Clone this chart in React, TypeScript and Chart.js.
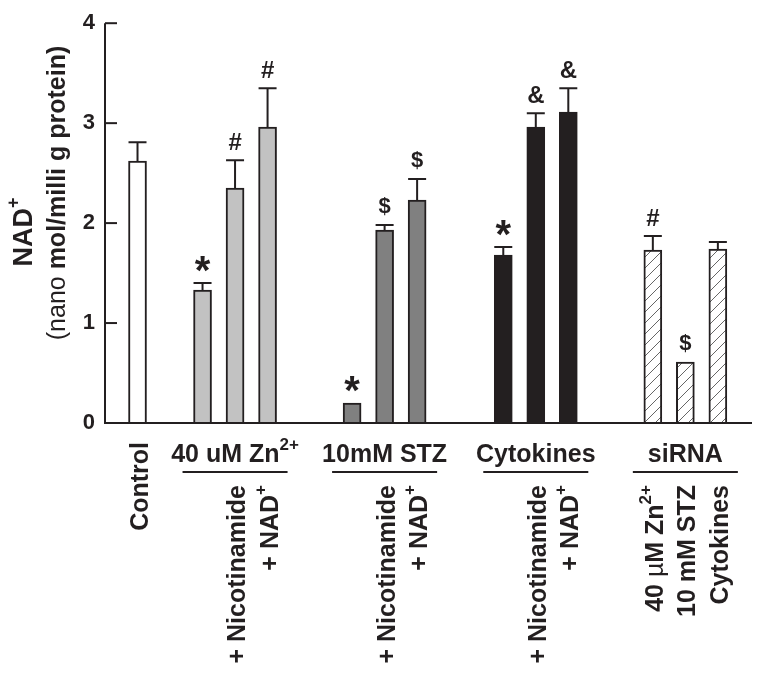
import React, { useEffect, useRef } from 'react';
import { Chart, registerables } from 'chart.js';

Chart.register(...registerables);

type Seg = { t: string; sup?: boolean; light?: boolean };

// ---- data ----
const positions = [1, 3, 4, 5, 7.6, 8.6, 9.6, 12.25, 13.25, 14.25, 16.85, 17.85, 18.85];
const values = [2.62, 1.33, 2.35, 2.96, 0.2, 1.93, 2.23, 1.68, 2.96, 3.11, 1.73, 0.61, 1.74];
const errors = [0.19, 0.07, 0.28, 0.39, 0, 0.05, 0.21, 0.08, 0.14, 0.24, 0.14, 0, 0.07];
const marks = ['', '*', '#', '#', '*', '$', '$', '*', '&', '&', '#', '$', ''];
const barKinds = ['control', 'zn', 'zn', 'zn', 'stz', 'stz', 'stz', 'cyt', 'cyt', 'cyt', 'sirna', 'sirna', 'sirna'];
const barLabels: Seg[][] = [
  [{ t: 'Control' }],
  [],
  [{ t: '+ Nicotinamide' }],
  [{ t: '+ NAD' }, { t: '+', sup: true }],
  [],
  [{ t: '+ Nicotinamide' }],
  [{ t: '+ NAD' }, { t: '+', sup: true }],
  [],
  [{ t: '+ Nicotinamide' }],
  [{ t: '+ NAD' }, { t: '+', sup: true }],
  [{ t: '40 ' }, { t: 'µ', light: true }, { t: 'M Zn' }, { t: '2+', sup: true }],
  [{ t: '10 mM STZ' }],
  [{ t: 'Cytokines' }],
];
const groupLabels: Seg[][] = [
  [{ t: '40 uM Zn' }, { t: '2+', sup: true }],
  [{ t: '10mM STZ' }],
  [{ t: 'Cytokines' }],
  [{ t: 'siRNA' }],
];
const groupFirst = [1, 4, 7, 10];
const groupLast = [3, 6, 9, 12];
const yTicks = [0, 1, 2, 3, 4];
const yTitle1: Seg[] = [{ t: 'NAD' }, { t: '+', sup: true }];
const yTitle2: Seg[] = [{ t: '(nano ', light: true }, { t: 'mol/milli g protein)' }];

// ---- styles ----
const INK = '#231f20';
const FONT = '"Liberation Sans", Arial, Helvetica, sans-serif';
const kindFill: Record<string, string> = {
  control: '#ffffff',
  zn: '#c2c2c2',
  stz: '#808080',
  cyt: '#231f20',
};

function fontFor(seg: Seg, size: number) {
  const s = seg.sup ? Math.round(size * 0.68) : size;
  return `${seg.light ? 'normal' : 'bold'} ${s}px ${FONT}`;
}

function drawRich(ctx: CanvasRenderingContext2D, segs: Seg[], size: number, align: 'left' | 'center' | 'right') {
  const widths = segs.map((s) => {
    ctx.font = fontFor(s, size);
    return ctx.measureText(s.t).width;
  });
  const total = widths.reduce((a, b) => a + b, 0);
  let x = align === 'left' ? 0 : align === 'center' ? -total / 2 : -total;
  ctx.textAlign = 'left';
  ctx.textBaseline = 'alphabetic';
  segs.forEach((s, i) => {
    ctx.font = fontFor(s, size);
    ctx.fillText(s.t, x, s.sup ? -size * 0.48 : 0);
    x += widths[i];
  });
}

function makeHatch(): CanvasPattern | string {
  const c = document.createElement('canvas');
  const n = 11;
  c.width = n;
  c.height = n;
  const g = c.getContext('2d');
  if (!g) return '#ffffff';
  g.fillStyle = '#ffffff';
  g.fillRect(0, 0, n, n);
  g.strokeStyle = '#555555';
  g.lineWidth = 0.9;
  g.beginPath();
  g.moveTo(-1, n + 1);
  g.lineTo(n + 1, -1);
  g.stroke();
  return g.createPattern(c, 'repeat') || '#ffffff';
}

const overlay = {
  id: 'overlay',
  afterDatasetsDraw(chart: any) {
    const ctx: CanvasRenderingContext2D = chart.ctx;
    const xs = chart.scales.x;
    const ys = chart.scales.y;
    const area = chart.chartArea;
    const barW = 18;
    ctx.save();
    ctx.strokeStyle = INK;
    ctx.fillStyle = INK;
    ctx.lineWidth = 2;

    // axes lines + inward ticks
    ctx.beginPath();
    ctx.moveTo(area.left, ys.getPixelForValue(4));
    ctx.lineTo(area.left, area.bottom);
    ctx.lineTo(area.right, area.bottom);
    ctx.stroke();
    yTicks.forEach((v) => {
      const y = ys.getPixelForValue(v);
      ctx.beginPath();
      ctx.moveTo(area.left, y);
      ctx.lineTo(area.left + 12, y);
      ctx.stroke();
    });

    // error bars and marks
    positions.forEach((p, i) => {
      const x = xs.getPixelForValue(p);
      const yTop = ys.getPixelForValue(values[i]);
      const yErr = ys.getPixelForValue(values[i] + errors[i]);
      if (errors[i] > 0) {
        ctx.beginPath();
        ctx.moveTo(x, yTop);
        ctx.lineTo(x, yErr);
        ctx.moveTo(x - barW / 2, yErr);
        ctx.lineTo(x + barW / 2, yErr);
        ctx.stroke();
      }
      const m = marks[i];
      if (m) {
        const size = m === '*' ? 40 : m === '$' ? 22 : 24;
        ctx.font = `bold ${size}px ${FONT}`;
        ctx.textAlign = 'center';
        ctx.textBaseline = 'alphabetic';
        const mt = ctx.measureText(m);
        const cy = yErr - 19;
        ctx.fillText(m, x, cy + (mt.actualBoundingBoxAscent - mt.actualBoundingBoxDescent) / 2);
      }
    });

    // group labels + underline
    const lineY = area.bottom + 49;
    groupLabels.forEach((segs, g) => {
      const x1 = xs.getPixelForValue(positions[groupFirst[g]]) - 20;
      const x2 = xs.getPixelForValue(positions[groupLast[g]]) + 20;
      ctx.beginPath();
      ctx.moveTo(x1, lineY);
      ctx.lineTo(x2, lineY);
      ctx.stroke();
      ctx.save();
      ctx.translate((x1 + x2) / 2, area.bottom + 39);
      drawRich(ctx, segs, 25, 'center');
      ctx.restore();
    });

    // rotated bar labels
    barLabels.forEach((segs, i) => {
      if (!segs.length) return;
      const x = xs.getPixelForValue(positions[i]);
      const inGroup = groupFirst.some((f, g) => i >= f && i <= groupLast[g]);
      const top = inGroup ? lineY + 13 : area.bottom + 19;
      ctx.save();
      ctx.translate(x + 10, top);
      ctx.rotate(-Math.PI / 2);
      drawRich(ctx, segs, 25, 'right');
      ctx.restore();
    });

    // y title
    ctx.save();
    ctx.translate(32, 232);
    ctx.rotate(-Math.PI / 2);
    drawRich(ctx, yTitle1, 27, 'center');
    ctx.restore();
    ctx.save();
    ctx.translate(65, 193);
    ctx.rotate(-Math.PI / 2);
    drawRich(ctx, yTitle2, 25, 'center');
    ctx.restore();

    ctx.restore();
  },
};

export default function App() {
  const ref = useRef<HTMLCanvasElement | null>(null);
  useEffect(() => {
    const canvas = ref.current;
    if (!canvas) return;
    const hatch = makeHatch();
    const fills = barKinds.map((k) => (k === 'sirna' ? hatch : kindFill[k]));
    const chart = new Chart(canvas, {
      type: 'bar',
      data: {
        datasets: [
          {
            data: positions.map((x, i) => ({ x, y: values[i] })),
            backgroundColor: fills as any,
            borderColor: INK,
            borderWidth: 2,
            borderSkipped: 'start',
            barThickness: 18,
          },
        ],
      },
      options: {
        responsive: false,
        animation: false,
        layout: { padding: { left: 0, right: 12, top: 19, bottom: 258 } },
        plugins: { legend: { display: false }, tooltip: { enabled: false } },
        scales: {
          x: {
            type: 'linear',
            offset: false,
            min: 0,
            max: 19.9,
            grid: { display: false, drawTicks: false, offset: false },
            ticks: { display: false },
            border: { display: false },
            afterFit: (s: any) => {
              s.height = 0;
            },
          },
          y: {
            min: 0,
            max: 4,
            ticks: {
              stepSize: 1,
              padding: 10,
              color: INK,
              font: { family: FONT, size: 22, weight: 'bold' },
            },
            grid: { display: false, drawTicks: false },
            border: { display: false },
            afterFit: (s: any) => {
              s.width = 105;
            },
          },
        },
      } as any,
      plugins: [overlay],
    });
    return () => chart.destroy();
  }, []);
  return (
    <div style={{ position: 'fixed', left: 0, top: 0, width: 764, height: 681, background: '#fff' }}>
      <canvas ref={ref} width={764} height={681} style={{ display: 'block' }} />
    </div>
  );
}
